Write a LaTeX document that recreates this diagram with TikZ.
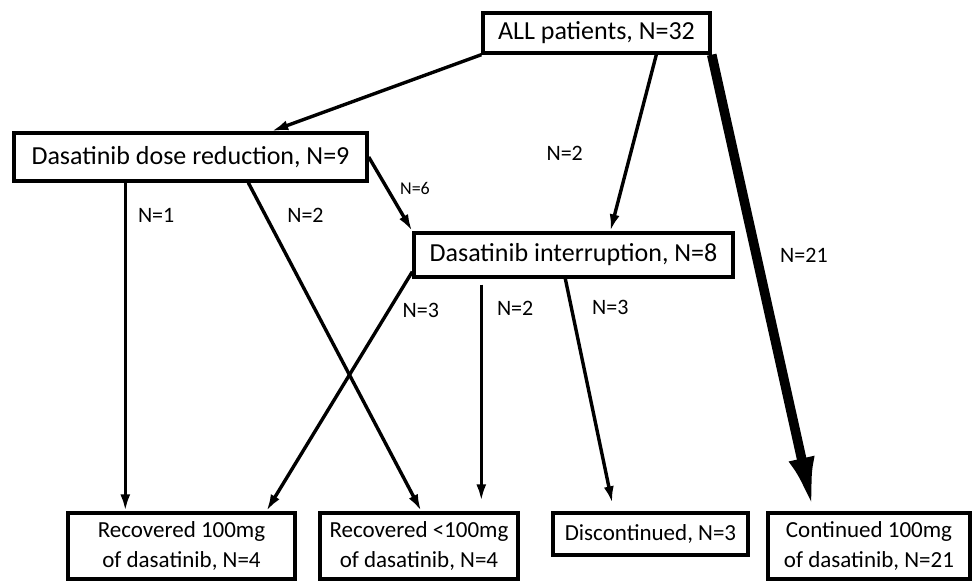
\documentclass[tikz,border=0pt]{standalone}
\usepackage{fontspec}
\setmainfont{Carlito}
\usetikzlibrary{arrows.meta, calc}
\tikzstyle{box} = [rectangle, draw, line width=1.7pt, text centered, inner sep=0pt, font=\fontsize{13}{15}\selectfont]
\tikzstyle{outbox} = [box, align=center, font=\fontsize{11.5}{15}\selectfont]
\tikzstyle{line} = [draw, line width=1.7pt, -{Latex[length=8.5pt, width=5pt]}]
\tikzstyle{bigline} = [draw, line width=4.8pt, -{Latex[length=27pt, width=13pt]}]
\tikzstyle{count} = [inner sep=0pt, font=\fontsize{11}{13}\selectfont]

\begin{document}
\begin{tikzpicture}[x=0.5pt, y=-0.5pt]
    \useasboundingbox (0,0) rectangle (972,581);

    \node[box, minimum width=113.5pt, minimum height=20pt](all) at (596.5,33) {ALL patients, N=32};
    \node[box, minimum width=176.5pt, minimum height=24pt](reduce) at (190.5,157) {Dasatinib dose reduction, N=9};
    \node[box, minimum width=159.5pt, minimum height=22pt](interrupt) at (573.5,255) {Dasatinib interruption, N=8};

    \node[outbox, minimum width=113.5pt, minimum height=33pt](rec100) at (181.5,546) {Recovered 100mg\\of dasatinib, N=4};
    \node[outbox, minimum width=99pt, minimum height=33pt](recless) at (419,546) {Recovered <100mg\\of dasatinib, N=4};
    \node[outbox, minimum width=97.5pt, minimum height=21pt](stop) at (650.5,534) {Discontinued, N=3};
    \node[outbox, minimum width=101pt, minimum height=33pt](cont) at (869,546) {Continued 100mg\\of dasatinib, N=21};

    \path[line] (all.south west) -- ($(reduce.north west)+(259,0)$);
    \path[line] ($(all.south west)+(175,0)$) -- node[count, pos=0.56, left=23pt] {N=2} ($(interrupt.north west)+(198,0)$);
    \path[bigline] (all.south east) -- node[count, pos=0.44, right=9.5pt] {N=21} ($(cont.north west)+(47,0)$);

    \path[line] ($(reduce.south west)+(113,0)$) -- node[count, pos=0.1, right=5.5pt] {N=1} ($(rec100.north west)+(59,0)$);
    \path[line] ($(reduce.south west)+(236,0)$) -- node[count, pos=0.1, right=10pt] {N=2} ($(recless.north west)+(103,0)$);
    \path[line] (reduce.east) -- node[count, pos=0.43, right=5.5pt, font=\fontsize{9}{11}\selectfont] {N=6} (interrupt.north west);

    \path[line] ($(interrupt.south west)+(0,-7)$) -- node[count, pos=0.16, right=6pt] {N=3} ($(rec100.north west)+(200,0)$);
    \path[line] ($(interrupt.south west)+(69,6)$) -- node[count, pos=0.11, right=7pt] {N=2} ($(recless.north west)+(163,-10)$);
    \path[line] ($(interrupt.south west)+(153,0)$) -- node[count, pos=0.13, right=9.5pt] {N=3} ($(stop.north west)+(61,-8)$);
\end{tikzpicture}
\end{document}
